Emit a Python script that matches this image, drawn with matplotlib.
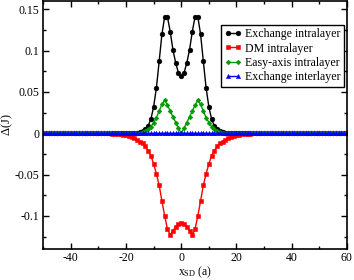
import numpy as np
import matplotlib
matplotlib.use("Agg")
import matplotlib.pyplot as plt
from matplotlib.ticker import MultipleLocator, FuncFormatter

plt.rcParams['font.family'] = ['Liberation Serif', 'DejaVu Serif']
plt.rcParams['mathtext.fontset'] = 'custom'
plt.rcParams['mathtext.rm'] = 'Liberation Serif'
plt.rcParams['mathtext.it'] = 'Liberation Serif:italic'
plt.rcParams['axes.unicode_minus'] = False

# positions of the skyrmion centre, outside -25..25 every curve is zero
x_core = np.arange(-25, 26)
x_tail_left = np.arange(-50, -25)
x_tail_right = np.arange(26, 61)

# values for x = -25 .. 25
exch_intra = [0, 0, 0, 0, 0, 0, 0.0001, 0.0002, 0.0004, 0.0008,
              0.0015, 0.003, 0.005, 0.009, 0.017, 0.032, 0.055, 0.087, 0.120, 0.141,
              0.141, 0.123, 0.101, 0.085, 0.073, 0.069, 0.073, 0.085, 0.101, 0.123,
              0.141, 0.141, 0.120, 0.087, 0.055, 0.032, 0.017, 0.009, 0.005, 0.003,
              0.0015, 0.0008, 0.0004, 0.0002, 0.0001, 0, 0, 0, 0, 0, 0]
dm_intra = [-0.0003, -0.0005, -0.0008, -0.0012, -0.0018, -0.0025, -0.0035, -0.0045, -0.006, -0.008,
            -0.010, -0.012, -0.016, -0.021, -0.027, -0.037, -0.049, -0.063, -0.082, -0.100,
            -0.116, -0.123, -0.118, -0.113, -0.110, -0.109, -0.110, -0.113, -0.118, -0.123,
            -0.116, -0.100, -0.082, -0.063, -0.049, -0.037, -0.027, -0.021, -0.016, -0.012,
            -0.010, -0.008, -0.006, -0.0045, -0.0035, -0.0025, -0.0018, -0.0012, -0.0008, -0.0005,
            -0.0003]
easy_axis = [0, 0, 0, 0, 0, 0, 0, 0, 0, 0,
             0.0007, 0.0015, 0.003, 0.005, 0.008, 0.013, 0.019, 0.027, 0.035, 0.040,
             0.034, 0.027, 0.020, 0.013, 0.006, 0.000, 0.006, 0.013, 0.020, 0.027,
             0.034, 0.040, 0.035, 0.027, 0.019, 0.013, 0.008, 0.005, 0.003, 0.0015,
             0.0007, 0, 0, 0, 0, 0, 0, 0, 0, 0, 0]
exch_inter = [0] * 51

labels = ["Exchange intralayer", "DM intralayer", "Easy-axis intralayer", "Exchange interlayer"]
colors = ["black", "#ff0000", "#009a00", "#0000ff"]
markers = ["o", "s", "D", "^"]
msizes = [3.4, 2.8, 2.4, 3.0]

x = np.concatenate([x_tail_left, x_core, x_tail_right])


def full(core):
    return np.concatenate([np.zeros(len(x_tail_left)), core, np.zeros(len(x_tail_right))])


series = [exch_intra, dm_intra, easy_axis, exch_inter]

fig = plt.figure(figsize=(3.54, 2.80), dpi=100)
ax = fig.add_axes([0.122, 0.111, 0.858, 0.885])

for s, lab, c, m, ms in zip(series, labels, colors, markers, msizes):
    ax.plot(x, full(s), color=c, marker=m, markersize=ms, lw=1.0,
            markeredgewidth=0.4, label=lab)

ax.set_xlim(-50, 60)
ax.set_ylim(-0.14, 0.16)
ax.xaxis.set_major_locator(MultipleLocator(20))
ax.xaxis.set_minor_locator(MultipleLocator(10))
ax.yaxis.set_major_locator(MultipleLocator(0.05))
ax.yaxis.set_minor_locator(MultipleLocator(0.025))
ax.yaxis.set_major_formatter(FuncFormatter(lambda v, p: "%g" % round(v, 3)))
ax.xaxis.set_major_formatter(FuncFormatter(lambda v, p: "%g" % v))
ax.tick_params(which='both', direction='in', top=True, right=True, labelsize=8.5, width=1.0)
ax.tick_params(which='major', length=4.5, pad=3)
ax.tick_params(axis='x', which='major', pad=2)
ax.tick_params(which='minor', length=2.5)
for sp in ax.spines.values():
    sp.set_linewidth(1.2)

ax.set_xlabel(r"x$_{\mathregular{SD}}$ (a)", fontsize=8.5)
ax.xaxis.set_label_coords(0.5, -0.062)
ax.set_ylabel(r"$\Delta$(J)", fontsize=9)
ax.yaxis.set_label_coords(-0.093, 0.5)

leg = ax.legend(loc='upper right', bbox_to_anchor=(0.99, 0.905), borderaxespad=0,
                fontsize=8.6, numpoints=2, handlelength=1.4, handletextpad=0.3,
                labelspacing=0.2, borderpad=0.3, fancybox=False, framealpha=1)
leg.get_frame().set_edgecolor('black')
leg.get_frame().set_linewidth(1.0)

fig.savefig("out.png", dpi=100)
